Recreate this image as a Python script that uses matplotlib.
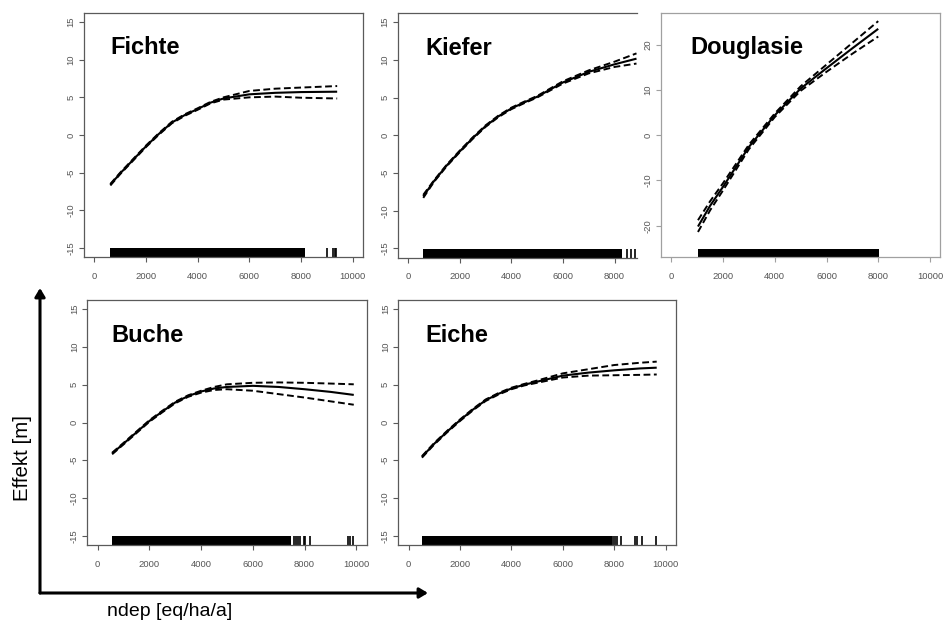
import matplotlib
matplotlib.use("Agg")
import matplotlib.pyplot as plt
from matplotlib.patches import FancyArrowPatch

plt.rcParams['font.family'] = ['Liberation Sans', 'DejaVu Sans']
plt.rcParams['axes.unicode_minus'] = False

# --- data ----------------------------------------------------------------
names = ['Fichte', 'Kiefer', 'Douglasie', 'Buche', 'Eiche']

fichte_x = [620, 1000, 1500, 2000, 2500, 3000, 3500, 4000, 4500, 5000, 6000, 7000, 8000, 9400]
fichte_fit = [-6.6, -5.1, -3.3, -1.5, 0.15, 1.65, 2.65, 3.45, 4.3, 4.85, 5.4, 5.6, 5.7, 5.75]
fichte_up = [-6.5, -5.0, -3.2, -1.4, 0.25, 1.75, 2.75, 3.55, 4.4, 5.0, 5.85, 6.15, 6.3, 6.5]
fichte_lo = [-6.7, -5.2, -3.4, -1.6, 0.05, 1.55, 2.55, 3.35, 4.2, 4.7, 5.0, 5.1, 4.95, 4.85]
fichte_rug_dense = [(620, 8150)]
fichte_rug_ticks = [9000, 9250, 9300, 9350]

kiefer_x = [590, 1000, 1500, 2000, 2500, 3000, 3500, 4000, 4500, 5000, 6000, 7000, 8000, 8850]
kiefer_fit = [-8.1, -6.1, -4.0, -2.15, -0.4, 1.2, 2.5, 3.55, 4.35, 5.1, 7.0, 8.4, 9.4, 10.15]
kiefer_up = [-7.9, -6.0, -3.9, -2.05, -0.3, 1.3, 2.6, 3.65, 4.45, 5.2, 7.15, 8.6, 9.75, 10.85]
kiefer_lo = [-8.3, -6.2, -4.1, -2.25, -0.5, 1.1, 2.4, 3.45, 4.25, 5.0, 6.85, 8.2, 9.05, 9.5]
kiefer_rug_dense = [(590, 8280)]
kiefer_rug_ticks = [8480, 8620, 8800]

douglasie_x = [1030, 1500, 2000, 3000, 4000, 5000, 6000, 7000, 8000]
douglasie_fit = [-20.2, -15.6, -11.4, -2.6, 4.4, 10.3, 14.8, 19.2, 23.5]
douglasie_up = [-18.8, -14.6, -10.6, -2.1, 4.8, 10.8, 15.6, 20.4, 25.2]
douglasie_lo = [-21.4, -16.6, -12.2, -3.1, 4.0, 9.8, 14.0, 18.0, 21.8]
douglasie_rug_dense = [(1030, 8020)]
douglasie_rug_ticks = []

buche_x = [560, 1000, 1500, 2000, 2500, 3000, 3500, 4000, 4500, 5000, 6000, 7000, 8000, 9000, 9900]
buche_fit = [-4.1, -2.8, -1.3, 0.2, 1.45, 2.65, 3.5, 4.1, 4.5, 4.7, 4.85, 4.7, 4.4, 4.05, 3.65]
buche_up = [-4.0, -2.7, -1.2, 0.3, 1.55, 2.75, 3.6, 4.2, 4.7, 5.05, 5.25, 5.3, 5.25, 5.15, 5.05]
buche_lo = [-4.2, -2.9, -1.4, 0.1, 1.35, 2.55, 3.4, 3.95, 4.3, 4.4, 4.2, 3.75, 3.3, 2.8, 2.35]
buche_rug_dense = [(560, 7480)]
buche_rug_ticks = [7580, 7660, 7740, 7840, 7960, 8030, 8200, 9680, 9750, 9860]

eiche_x = [520, 1000, 1500, 2000, 2500, 3000, 3500, 4000, 4500, 5000, 6000, 7000, 8000, 9000, 9650]
eiche_fit = [-4.55, -2.8, -1.2, 0.3, 1.7, 2.95, 3.8, 4.5, 5.0, 5.4, 6.2, 6.6, 6.9, 7.15, 7.25]
eiche_up = [-4.45, -2.7, -1.1, 0.4, 1.8, 3.05, 3.9, 4.6, 5.1, 5.55, 6.5, 7.05, 7.6, 7.9, 8.05]
eiche_lo = [-4.65, -2.9, -1.3, 0.2, 1.6, 2.85, 3.7, 4.4, 4.9, 5.25, 5.95, 6.2, 6.25, 6.3, 6.35]
eiche_rug_dense = [(530, 7900)]
eiche_rug_ticks = [7960, 8030, 8120, 8280, 8800, 8870, 9070, 9610]

xs = [fichte_x, kiefer_x, douglasie_x, buche_x, eiche_x]
fits = [fichte_fit, kiefer_fit, douglasie_fit, buche_fit, eiche_fit]
ups = [fichte_up, kiefer_up, douglasie_up, buche_up, eiche_up]
los = [fichte_lo, kiefer_lo, douglasie_lo, buche_lo, eiche_lo]
rug_dense = [fichte_rug_dense, kiefer_rug_dense, douglasie_rug_dense,
             buche_rug_dense, eiche_rug_dense]
rug_ticks = [fichte_rug_ticks, kiefer_rug_ticks, douglasie_rug_ticks,
             buche_rug_ticks, eiche_rug_ticks]

yticks_std = [-15, -10, -5, 0, 5, 10, 15]
yticks_dgl = [-20, -10, 0, 10, 20]
xticks_all = [0, 2000, 4000, 6000, 8000, 10000]

# --- layout (figure pixels: left, top, right, bottom) ---------------------
W, H = 943, 624
boxes = [(84, 13, 363, 257), (397.7, 13, 636.5, 257.5), (661, 13, 940.3, 257.3),
         (87.3, 300, 366.7, 545), (398.3, 300, 676, 545)]
xlims = [(-400, 10400), (-400, 8850), (-400, 10400), (-400, 10400), (-400, 10400)]
ylims = [(-16.2, 16.2), (-16.2, 16.2), (-27, 27), (-16.2, 16.2), (-16.2, 16.2)]
title_pos = [(634, 10.75), (657, 10.7), (723, 17.9), (545, 10.7), (634, 10.7)]

fig = plt.figure(figsize=(W / 100, H / 100), dpi=100)

for i, name in enumerate(names):
    l, t, r, b = boxes[i]
    ax = fig.add_axes([l / W, 1 - b / H, (r - l) / W, (b - t) / H])
    frame_col = '#a0a0a0' if name == 'Douglasie' else '#5a5a5a'
    ax.plot(xs[i], fits[i], color='black', lw=1.5, solid_capstyle='butt')
    ax.plot(xs[i], ups[i], color='black', lw=1.4, dashes=(3.5, 1.8))
    ax.plot(xs[i], los[i], color='black', lw=1.4, dashes=(3.5, 1.8))
    for a0, a1 in rug_dense[i]:
        ax.axvspan(a0, a1, ymin=0, ymax=0.036, color='black', lw=0)
    if rug_ticks[i]:
        ax.vlines(rug_ticks[i], 0, 0.036, transform=ax.get_xaxis_transform(),
                  color='black', lw=1.2)
    ax.set_xlim(*xlims[i])
    ax.set_ylim(*ylims[i])
    ax.set_xticks([v for v in xticks_all if v <= xlims[i][1]])
    ax.set_yticks(yticks_dgl if name == 'Douglasie' else yticks_std)
    ax.tick_params(colors=frame_col, labelcolor='#555555', labelsize=6.8,
                   length=3.6, width=0.8)
    ax.tick_params(axis='x', pad=7)
    ax.tick_params(axis='y', pad=2.5)
    for lab in ax.get_yticklabels():
        lab.set_rotation(90)
        lab.set_verticalalignment('center')
    for sp in ax.spines.values():
        sp.set_color(frame_col)
        sp.set_linewidth(0.9)
    if name == 'Kiefer':
        ax.spines['right'].set_visible(False)
    ax.text(title_pos[i][0], title_pos[i][1], name, fontsize=17,
            fontweight='bold', va='baseline', ha='left')

# big axis arrows
ox, oy = 40 / W, 1 - 593 / H
fig.add_artist(FancyArrowPatch((ox, oy), (ox, 1 - 288 / H), transform=fig.transFigure,
                               arrowstyle='-|>,head_length=5,head_width=3',
                               color='black', lw=2.2, shrinkA=0, shrinkB=0))
fig.add_artist(FancyArrowPatch((ox, oy), (428 / W, oy), transform=fig.transFigure,
                               arrowstyle='-|>,head_length=5,head_width=3',
                               color='black', lw=2.2, shrinkA=0, shrinkB=0))
fig.text(22.7 / W, 1 - 458 / H, 'Effekt [m]', rotation=90, fontsize=14.8,
         ha='center', va='center')
fig.text(170 / W, 1 - 612 / H, 'ndep [eq/ha/a]', fontsize=14,
         ha='center', va='center')

plt.savefig('out.png', dpi=100)
